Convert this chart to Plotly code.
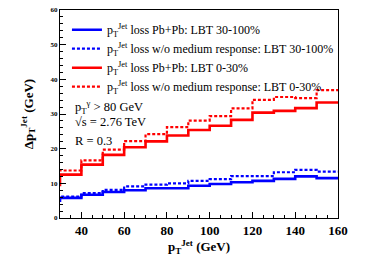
import plotly.graph_objects as go

# bin edges (first bin 20-30 lies outside the visible range, it only sets the step at x=30)
edges = [20, 30, 40, 50, 60, 70, 80, 90, 100, 110, 120, 130, 140, 150, 160]

blue_solid = [5.0, 5.8, 6.7, 7.5, 8.0, 8.6, 8.6, 9.3, 9.8, 10.3, 10.7, 11.3, 12.0, 11.5]
blue_dot   = [5.5, 6.2, 7.2, 8.1, 9.1, 9.6, 10.0, 10.7, 11.2, 12.1, 12.1, 13.2, 13.9, 13.4]
red_solid  = [9.5, 12.5, 15.4, 18.2, 20.4, 22.1, 23.8, 25.4, 26.6, 28.3, 30.4, 30.9, 31.7, 33.3]
red_dot    = [13.7, 13.7, 16.6, 19.7, 22.2, 24.2, 26.2, 28.1, 29.4, 31.6, 34.1, 34.9, 34.6, 36.9]

names = [
    "p<sub>T</sub><sup>Jet</sup> loss Pb+Pb: LBT 30-100%",
    "p<sub>T</sub><sup>Jet</sup> loss w/o medium response: LBT 30-100%",
    "p<sub>T</sub><sup>Jet</sup> loss Pb+Pb: LBT 0-30%",
    "p<sub>T</sub><sup>Jet</sup> loss w/o medium response: LBT 0-30%",
]
series = [blue_solid, blue_dot, red_solid, red_dot]
colors = ["#0000ff", "#0000ff", "#ff0000", "#ff0000"]
dashes = ["solid", "3px,2px", "solid", "3px,2px"]
widths = [2.6, 2.2, 2.6, 2.2]

fig = go.Figure()
for i, (name, vals, c, d, w) in enumerate(zip(names, series, colors, dashes, widths)):
    fig.add_trace(go.Scatter(
        x=edges, y=vals + [vals[-1]], mode="lines", name=name, legendgroup=f"g{i}",
        line=dict(color=c, dash=d, width=w, shape="hv"),
    ))

serif = "Liberation Serif, Times New Roman, serif"

fig.update_layout(
    template="none",
    width=365, height=262,
    margin=dict(l=60, r=27, t=10, b=44),
    paper_bgcolor="white", plot_bgcolor="white",
    font=dict(family=serif, color="black"),
    showlegend=True,
    legend=dict(x=0.025, y=0.975, xanchor="left", yanchor="top",
                bgcolor="rgba(0,0,0,0)", font=dict(size=12, family=serif),
                itemwidth=30, tracegroupgap=0),
    xaxis=dict(range=[30, 160], dtick=20, tick0=0, showgrid=False, zeroline=False, automargin=False,
               showline=True, linecolor="black", linewidth=1, mirror=True,
               ticks="inside", ticklen=6, tickcolor="black",
               minor=dict(ticks="inside", ticklen=3, dtick=5, tickcolor="black", showgrid=False),
               tickfont=dict(size=13, family=serif, weight="bold"),
               title=dict(text="<b>p<sub>T</sub><sup>Jet</sup> (GeV)</b>", font=dict(size=13, family=serif), standoff=0)),
    yaxis=dict(range=[0, 60], dtick=10, showgrid=False, zeroline=False, automargin=False,
               showline=True, linecolor="black", linewidth=1, mirror=True,
               ticks="inside", ticklen=6, tickcolor="black",
               minor=dict(ticks="inside", ticklen=3, dtick=2, tickcolor="black", showgrid=False),
               tickfont=dict(size=7, family=serif, weight="bold"),
               title=dict(text="<b>Δp<sub>T</sub><sup>Jet</sup> (GeV)</b>", font=dict(size=13, family=serif), standoff=14)),
)

fig.add_annotation(x=0.045, y=0.534, xref="paper", yref="paper", xanchor="left", yanchor="middle",
                   text="p<sub>T</sub><sup>γ</sup> > 80 GeV", showarrow=False, font=dict(size=12.5, family=serif))
fig.add_annotation(x=0.045, y=0.46, xref="paper", yref="paper", xanchor="left", yanchor="middle",
                   text="√s = 2.76 TeV", showarrow=False, font=dict(size=12.5, family=serif))
fig.add_annotation(x=0.045, y=0.372, xref="paper", yref="paper", xanchor="left", yanchor="middle",
                   text="R = 0.3", showarrow=False, font=dict(size=12.5, family=serif))

fig.write_html("out.html", config={"displayModeBar": False},
               post_script="document.body.style.margin='0';document.body.style.overflow='hidden';")
